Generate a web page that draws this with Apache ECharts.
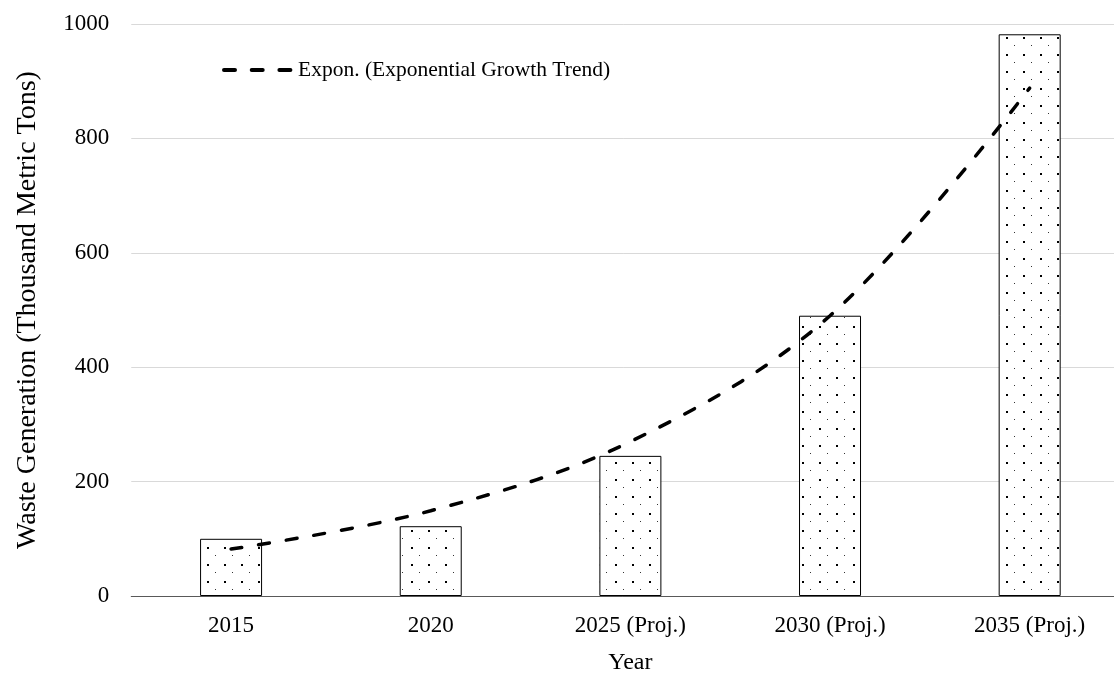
<!DOCTYPE html>
<html>
<head>
<meta charset="utf-8">
<script src="https://cdn.jsdelivr.net/npm/echarts@6/dist/echarts.min.js"></script>
<style>html,body{margin:0;padding:0;background:#fff}#c{width:1114px;height:673px}</style>
</head>
<body>
<div id="c"></div>
<script>
var categories = ['2015', '2020', '2025 (Proj.)', '2030 (Proj.)', '2035 (Proj.)'];
var wasteValues = [100, 122, 245, 490, 982];
var trendValues = [82, 149, 270, 490, 888];
var yTicks = [0, 200, 400, 600, 800, 1000];

function makePattern() {
  var c = document.createElement('canvas');
  c.width = 17; c.height = 17;
  var g = c.getContext('2d');
  g.fillStyle = '#fff';
  g.fillRect(0, 0, 17, 17);
  g.fillStyle = '#000';
  g.fillRect(3, 3, 2, 2);
  g.fillStyle = '#333';
  g.fillRect(11, 11, 1, 1);
  return c;
}

var chart = echarts.init(document.getElementById('c'), null, {renderer: 'canvas'});
var font = 'Liberation Serif';
chart.setOption({
  animation: false,
  backgroundColor: '#fff',
  textStyle: {fontFamily: font},
  grid: {left: 131.25, right: -15.5, top: 24, bottom: 77, containLabel: false, outerBoundsMode: 'none'},
  legend: {
    left: 222, top: 59, padding: 0,
    itemWidth: 75, itemHeight: 22, itemGap: 2,
    data: ['Expon. (Exponential Growth Trend)'],
    itemStyle: {color: 'rgba(0,0,0,0)', borderWidth: 0, opacity: 0},
    lineStyle: {color: '#000', width: 4, type: [11, 16.7], cap: 'round'},
    textStyle: {fontFamily: font, fontSize: 21.5, color: '#000', padding: [0, 0, 0, -6]}
  },
  xAxis: {
    type: 'category',
    data: categories,
    name: 'Year',
    nameLocation: 'middle',
    nameGap: 55,
    nameTextStyle: {fontFamily: font, fontSize: 24, color: '#000'},
    axisLine: {lineStyle: {color: '#595959', width: 1}},
    axisTick: {show: false},
    axisLabel: {fontFamily: font, fontSize: 23, color: '#000', margin: 18}
  },
  yAxis: {
    type: 'value',
    min: yTicks[0], max: yTicks[yTicks.length - 1], interval: 200,
    name: 'Waste Generation (Thousand Metric Tons)',
    nameLocation: 'middle',
    nameGap: 90,
    nameTextStyle: {fontFamily: font, fontSize: 28, color: '#000'},
    axisLine: {show: false},
    axisTick: {show: false},
    axisLabel: {fontFamily: font, fontSize: 23, color: '#000', margin: 22, formatter: function (v) { return String(v); }},
    splitLine: {lineStyle: {color: '#d9d9d9', width: 1}}
  },
  series: [
    {
      name: 'Waste Generation',
      type: 'bar',
      data: wasteValues,
      barWidth: 62,
      itemStyle: {color: {image: makePattern(), repeat: 'repeat'}, borderColor: '#000', borderWidth: 1}
    },
    {
      name: 'Expon. (Exponential Growth Trend)',
      type: 'line',
      data: trendValues,
      smooth: 0.35,
      symbol: 'none',
      z: 5,
      lineStyle: {color: '#000', width: 3.5, type: [11, 17], cap: 'round'},
      itemStyle: {color: '#000'}
    }
  ]
});
</script>
</body>
</html>
